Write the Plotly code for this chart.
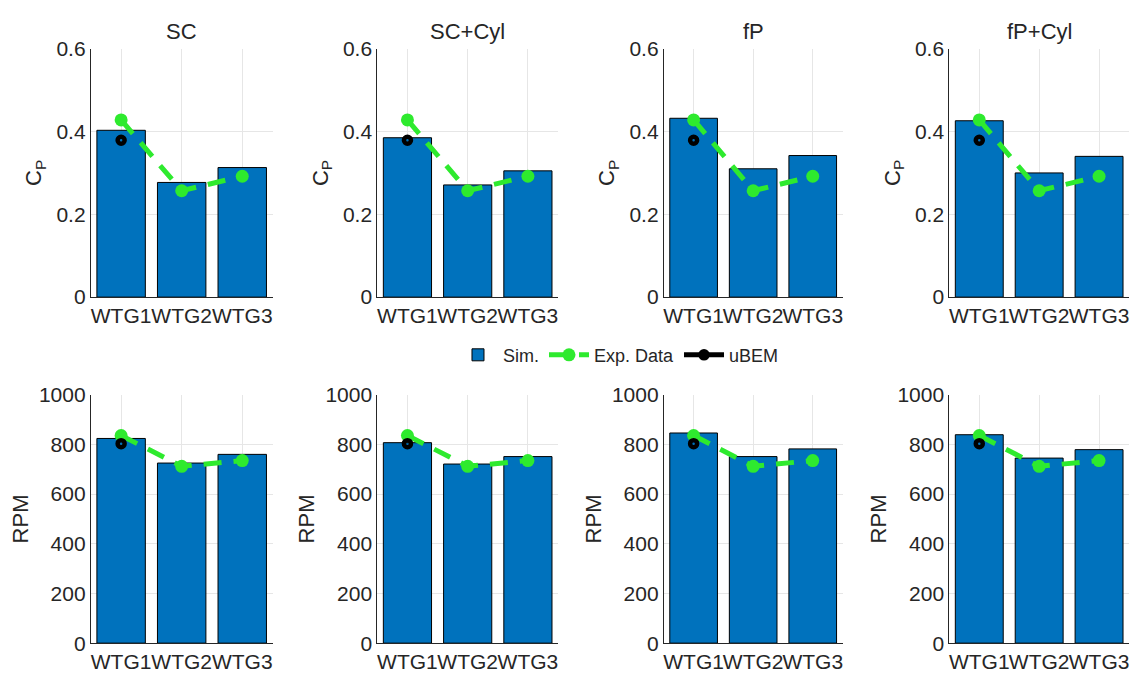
import plotly.graph_objects as go

categories = ["WTG1", "WTG2", "WTG3"]
panel_titles = ["SC", "SC+Cyl", "fP", "fP+Cyl"]

# Power coefficient (top row)
cp_sim = {
    "SC": [0.403, 0.277, 0.313],
    "SC+Cyl": [0.385, 0.271, 0.305],
    "fP": [0.432, 0.310, 0.342],
    "fP+Cyl": [0.426, 0.300, 0.340],
}
cp_exp = [0.428, 0.257, 0.292]
cp_ubem = [0.379, None, None]

# Rotor speed (bottom row)
rpm_sim = {
    "SC": [824, 725, 760],
    "SC+Cyl": [807, 721, 751],
    "fP": [846, 751, 782],
    "fP+Cyl": [839, 745, 779],
}
rpm_exp = [836, 712, 735]
rpm_ubem = [803, None, None]

BAR_COLOR = "#0072BD"
EXP_COLOR = "#2EEA2E"
FONT = "Liberation Sans, Arial, sans-serif"
TXT = "#262626"

W, H = 1135, 687
x_px = [(90, 272), (377, 558), (664, 843), (950, 1130)]
y_px_top = (38, 295)
y_px_bot = (396, 653)


def px2x(a, b):
    return [a / W, b / W]


def px2y(top, bot):
    return [1 - bot / H, 1 - top / H]


fig = go.Figure()
layout = {}

for r, (sim, exp, ubem, yr, dtick, ytitle, ypx, stand) in enumerate([
    (cp_sim, cp_exp, cp_ubem, [0, 0.6], 0.2, "C<sub>P</sub>", y_px_top, 8),
    (rpm_sim, rpm_exp, rpm_ubem, [0, 1000], 200, "RPM", y_px_bot, 4),
]):
    for c, name in enumerate(panel_titles):
        idx = r * 4 + c + 1
        xa = "x" if idx == 1 else f"x{idx}"
        ya = "y" if idx == 1 else f"y{idx}"
        first = idx == 1
        fig.add_trace(go.Bar(
            x=categories, y=sim[name], xaxis=xa, yaxis=ya,
            marker=dict(color=BAR_COLOR, line=dict(color="black", width=1)),
            width=0.8, name="Sim.", showlegend=first, legendgroup="sim",
        ))
        fig.add_trace(go.Scatter(
            x=categories, y=exp, xaxis=xa, yaxis=ya, mode="lines+markers",
            line=dict(color=EXP_COLOR, width=5, dash="18px,12px"),
            marker=dict(color=EXP_COLOR, size=13),
            name="Exp. Data", showlegend=first, legendgroup="exp",
        ))
        fig.add_trace(go.Scatter(
            x=categories, y=ubem, xaxis=xa, yaxis=ya, mode="lines+markers",
            line=dict(color="black", width=5),
            marker=dict(color="black", size=7, symbol="circle-open",
                        line=dict(color="black", width=4.5)),
            name="uBEM", showlegend=first, legendgroup="ubem",
        ))
        xk = "xaxis" if idx == 1 else f"xaxis{idx}"
        yk = "yaxis" if idx == 1 else f"yaxis{idx}"
        layout[xk] = dict(
            domain=px2x(*x_px[c]), anchor=ya, range=[-0.5, 2.5],
            type="category", showgrid=True, gridcolor="#E6E6E6",
            showline=True, linecolor=TXT, linewidth=1, ticks="",
            tickangle=0,
            tickfont=dict(size=21, color=TXT, family=FONT), fixedrange=True,
        )
        layout[yk] = dict(
            domain=px2y(*ypx), anchor=xa, range=yr, dtick=dtick,
            showgrid=True, gridcolor="#E6E6E6", zeroline=False,
            showline=True, linecolor=TXT, linewidth=1, ticks="",
            tickfont=dict(size=21, color=TXT, family=FONT),
            title=dict(text=ytitle, font=dict(size=22, color=TXT, family=FONT),
                       standoff=stand),
            tickformat="~g",
        )

annotations = []
for c, name in enumerate(panel_titles):
    a, b = x_px[c]
    annotations.append(dict(
        text=name, x=(a + b) / 2 / W, y=1 - 20 / H, xref="paper", yref="paper",
        showarrow=False, xanchor="center", yanchor="middle",
        font=dict(size=22, color=TXT, family=FONT),
    ))

fig.update_layout(
    **layout,
    annotations=annotations,
    width=W, height=H,
    margin=dict(l=0, r=0, t=0, b=0),
    paper_bgcolor="white", plot_bgcolor="white",
    bargap=0.2,
    font=dict(family=FONT, color=TXT),
    legend=dict(
        orientation="h", x=0.545, xanchor="center", y=1 - 355 / H,
        yanchor="middle", font=dict(size=18, color=TXT, family=FONT),
        bgcolor="rgba(255,255,255,0)", itemwidth=40,
    ),
)

fig.write_html("out.html")
